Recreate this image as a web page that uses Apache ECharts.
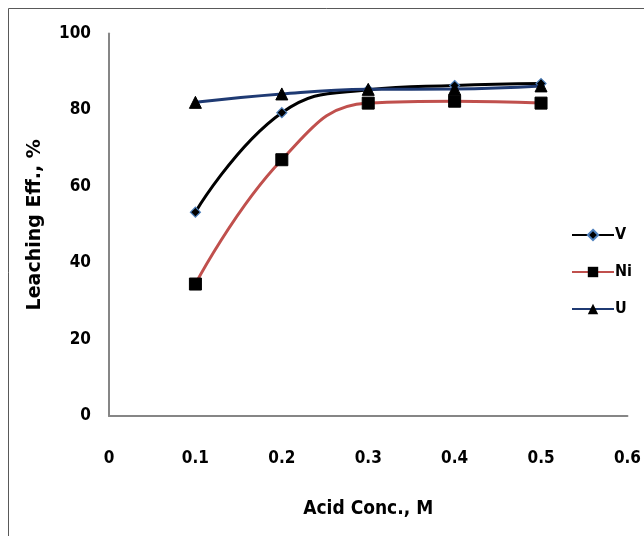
<!DOCTYPE html>
<html><head><meta charset="utf-8">
<script src="https://cdn.jsdelivr.net/npm/echarts@6/dist/echarts.min.js"></script>
<style>html,body{margin:0;padding:0;background:#fff}#c{width:644px;height:536px}</style>
</head><body><div id="c"></div>
<script>
const conc = [0.1, 0.2, 0.3, 0.4, 0.5];
const vVals = [53.3, 79.3, 85.3, 86.4, 86.9];
const niVals = [34.5, 67, 81.8, 82.3, 81.8];
const uVals = [82, 84.2, 85.4, 85.5, 86.3];
const seriesNames = ['V', 'Ni', 'U'];
const xTitle = 'Acid Conc., M';
const yTitle = 'Leaching Eff., %';

const pairs = v => conc.map((x, i) => [x, v[i]]);
const tickFont = '"Liberation Sans Narrow","DejaVu Sans Condensed",sans-serif';
const chart = echarts.init(document.getElementById('c'));
chart.setOption({
  animation: false,
  backgroundColor: '#fff',
  graphic: [{type: 'rect', shape: {x: 8.5, y: 8.5, width: 700, height: 600}, style: {fill: 'none', stroke: '#595959', lineWidth: 1}, silent: true}],
  grid: {left: 109, right: 14, top: 33.5, bottom: 120},
  legend: {
    orient: 'vertical', left: 566, top: 222, itemGap: 21, itemWidth: 42, itemHeight: 13,
    textStyle: {fontFamily: tickFont, fontWeight: 'bold', fontSize: 16, color: '#000', padding: [0, 0, 0, -4]},
    data: seriesNames
  },
  xAxis: {
    type: 'value', min: 0, max: 0.6, interval: 0.1,
    name: xTitle, nameLocation: 'middle', nameGap: 84,
    nameTextStyle: {fontFamily: tickFont, fontWeight: 'bold', fontSize: 19, color: '#000'},
    axisLine: {show: true, lineStyle: {color: '#868686', width: 2}},
    axisTick: {show: false}, splitLine: {show: false},
    axisLabel: {margin: 34, fontFamily: tickFont, fontWeight: 'bold', fontSize: 17, color: '#000',
      formatter: v => v === 0 ? '0' : v.toFixed(1)}
  },
  yAxis: {
    type: 'value', min: 0, max: 100, interval: 20,
    name: yTitle, nameLocation: 'middle', nameGap: 64,
    nameTextStyle: {fontFamily: '"DejaVu Sans",sans-serif', fontWeight: 'bold', fontSize: 19, color: '#000'},
    axisLine: {show: true, lineStyle: {color: '#868686', width: 2}},
    axisTick: {show: false}, splitLine: {show: false},
    axisLabel: {margin: 18, fontFamily: tickFont, fontWeight: 'bold', fontSize: 17, color: '#000'}
  },
  series: [
    {name: 'V', type: 'line', smooth: 0.45, data: pairs(vVals), symbol: 'diamond', symbolSize: 10,
      lineStyle: {color: '#000', width: 3}, itemStyle: {color: '#000', borderColor: '#4f81bd', borderWidth: 1.2}, z: 3},
    {name: 'Ni', type: 'line', smooth: 0.45, data: pairs(niVals), symbol: 'rect', symbolSize: 12,
      lineStyle: {color: '#c0504d', width: 3}, itemStyle: {color: '#000', borderColor: '#000'}, z: 2},
    {name: 'U', type: 'line', smooth: 0.45, data: pairs(uVals), symbol: 'triangle', symbolSize: 12,
      lineStyle: {color: '#1f3a73', width: 3}, itemStyle: {color: '#000', borderColor: '#000'}, z: 4}
  ]
});
</script></body></html>
